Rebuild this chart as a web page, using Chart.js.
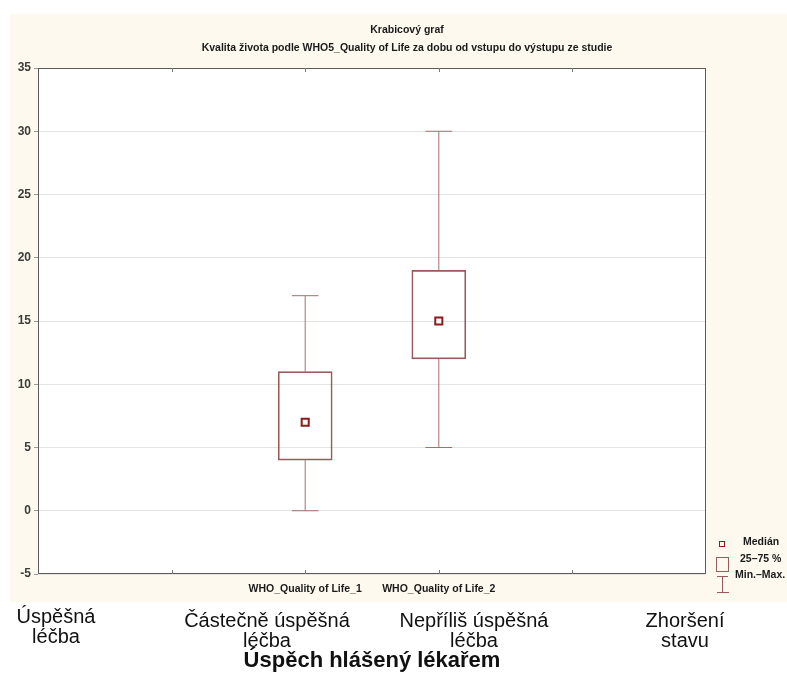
<!DOCTYPE html>
<html>
<head>
<meta charset="utf-8">
<script src="https://cdn.jsdelivr.net/npm/chart.js@4.4.1/dist/chart.umd.min.js"></script>
<style>
  html, body { margin: 0; padding: 0; background: #ffffff; }
  #wrap { width: 787px; height: 680px; position: relative; }
</style>
</head>
<body>
<div id="wrap"><canvas id="c" width="787" height="680"></canvas></div>
<script>
// Box plot summary per variable
const variables    = ['WHO_Quality of Life_1', 'WHO_Quality of Life_2'];
const positions    = [2, 3];
const minValues    = [0, 5];
const q1Values     = [4, 12];
const medianValues = [7, 15];
const q3Values     = [11, 19];
const maxValues    = [17, 30];

// Axis ranges and tick labels
const yMin = -5, yMax = 35, yStep = 5;
const xMin = 0, xMax = 5;
const xTickValues = [1, 2, 3, 4];

// Headings of the panel
const chartTitle = 'Krabicový graf';
const chartSubtitle = 'Kvalita života podle WHO5_Quality of Life za dobu od vstupu do výstupu ze studie';

// Legend entries
const legendLabels = ['Medián', '25–75 %', 'Min.–Max.'];

// Outcome groups written under the panel
const groupLabels = [
  ['Úspěšná', 'léčba'],
  ['Částečně úspěšná', 'léčba'],
  ['Nepříliš úspěšná', 'léčba'],
  ['Zhoršení', 'stavu']
];
const groupTitle = 'Úspěch hlášený lékařem';

const BOX_COLOR = '#9a5a5a';
const WHISKER_COLOR = '#a56e6e';
const MEDIAN_COLOR = '#8b1c1c';
const FONT = '"Liberation Sans", Arial, sans-serif';
const CAP_HALF = 0.1;

// Whisker stems (min→Q1 and Q3→max) and caps, as broken line segments
const stemPoints = [];
const capPoints = [];
positions.forEach((p, i) => {
  stemPoints.push({x: p, y: minValues[i]}, {x: p, y: q1Values[i]}, {x: p, y: null});
  stemPoints.push({x: p, y: q3Values[i]}, {x: p, y: maxValues[i]}, {x: p, y: null});
  capPoints.push({x: p - CAP_HALF, y: minValues[i]}, {x: p + CAP_HALF, y: minValues[i]}, {x: p, y: null});
  capPoints.push({x: p - CAP_HALF, y: maxValues[i]}, {x: p + CAP_HALF, y: maxValues[i]}, {x: p, y: null});
});

const panelPlugin = {
  id: 'panel',
  beforeDraw(chart) {
    const ctx = chart.ctx, a = chart.chartArea;
    ctx.save();
    ctx.fillStyle = '#ffffff';
    ctx.fillRect(0, 0, chart.width, chart.height);
    ctx.fillStyle = '#fdf9ee';
    ctx.fillRect(10, 14, chart.width - 10, 588);
    ctx.fillStyle = '#ffffff';
    ctx.fillRect(a.left, a.top, a.right - a.left, a.bottom - a.top);

    // headings
    ctx.fillStyle = '#1a1a1a';
    ctx.font = 'bold 10.5px ' + FONT;
    ctx.textAlign = 'center';
    ctx.textBaseline = 'middle';
    ctx.fillText(chartTitle, 407, 30);
    ctx.fillText(chartSubtitle, 407, 48);
    ctx.restore();
  },
  afterDraw(chart) {
    const ctx = chart.ctx, a = chart.chartArea;
    const xs = chart.scales.x;
    ctx.save();
    // frame
    ctx.strokeStyle = '#5c5c5c';
    ctx.lineWidth = 1;
    ctx.strokeRect(Math.round(a.left) + 0.5, Math.round(a.top) + 0.5,
                   Math.round(a.right - a.left) - 1, Math.round(a.bottom - a.top) - 1);
    // inner tick marks on top and bottom edges
    ctx.strokeStyle = '#777777';
    xTickValues.forEach(v => {
      const px = Math.round(xs.getPixelForValue(v)) + 0.5;
      ctx.beginPath();
      ctx.moveTo(px, a.top); ctx.lineTo(px, a.top + 4);
      ctx.moveTo(px, a.bottom); ctx.lineTo(px, a.bottom - 4);
      ctx.stroke();
    });

    // legend key
    ctx.strokeStyle = MEDIAN_COLOR;
    ctx.lineWidth = 1;
    ctx.strokeRect(719.5, 541.5, 5, 5);
    ctx.strokeStyle = BOX_COLOR;
    ctx.strokeRect(716.5, 557.5, 12, 14);
    ctx.beginPath();
    ctx.moveTo(722.5, 576); ctx.lineTo(722.5, 593);
    ctx.moveTo(717, 576.5); ctx.lineTo(728, 576.5);
    ctx.moveTo(717, 592.5); ctx.lineTo(729, 592.5);
    ctx.stroke();
    ctx.fillStyle = '#1a1a1a';
    ctx.font = 'bold 10.5px ' + FONT;
    ctx.textBaseline = 'middle';
    ctx.textAlign = 'left';
    ctx.fillText(legendLabels[0], 743, 542);
    ctx.fillText(legendLabels[1], 740, 559);
    ctx.fillText(legendLabels[2], 735, 575);

    // outcome group labels below the panel
    const centers = [56, 267, 474, 685];
    const firstBase = [623, 627, 627, 627];
    ctx.fillStyle = '#111111';
    ctx.font = '20px ' + FONT;
    ctx.textAlign = 'center';
    ctx.textBaseline = 'alphabetic';
    groupLabels.forEach((lines, i) => {
      lines.forEach((t, j) => ctx.fillText(t, centers[i], firstBase[i] + j * 20));
    });
    ctx.font = 'bold 22px ' + FONT;
    ctx.fillText(groupTitle, 372, 667);
    ctx.restore();
  }
};

new Chart(document.getElementById('c'), {
  type: 'bar',
  data: {
    datasets: [
      {
        type: 'scatter',
        label: legendLabels[0],
        data: positions.map((p, i) => ({x: p, y: medianValues[i]})),
        pointStyle: 'rect',
        pointRadius: 5,
        pointBorderWidth: 2,
        pointBorderColor: MEDIAN_COLOR,
        pointBackgroundColor: '#ffffff',
        order: 0
      },
      {
        type: 'line',
        label: legendLabels[2],
        data: stemPoints,
        borderColor: WHISKER_COLOR,
        borderWidth: 1,
        pointRadius: 0,
        spanGaps: false,
        order: 1
      },
      {
        type: 'line',
        label: 'caps',
        data: capPoints,
        borderColor: WHISKER_COLOR,
        borderWidth: 1,
        pointRadius: 0,
        spanGaps: false,
        order: 1
      },
      {
        type: 'bar',
        label: legendLabels[1],
        data: positions.map((p, i) => ({x: p, y: [q1Values[i], q3Values[i]]})),
        backgroundColor: 'rgba(255,255,255,0)',
        borderColor: BOX_COLOR,
        borderWidth: 1,
        borderSkipped: false,
        barThickness: 54,
        order: 2
      }
    ]
  },
  options: {
    responsive: false,
    animation: false,
    layout: { padding: { left: 10, right: 81, top: 68, bottom: 80 } },
    plugins: {
      legend: { display: false },
      tooltip: { enabled: false },
      title: { display: false }
    },
    scales: {
      x: {
        type: 'linear',
        min: xMin,
        max: xMax,
        offset: false,
        grid: { display: false, drawTicks: false },
        border: { display: false },
        ticks: {
          stepSize: 1,
          autoSkip: false,
          maxRotation: 0,
          padding: 9,
          color: '#1a1a1a',
          font: { family: FONT, size: 10.5, weight: 'bold' },
          callback: v => {
            const i = positions.indexOf(v);
            return i >= 0 ? variables[i] : '';
          }
        },
        afterFit: s => { s.height = 26; }
      },
      y: {
        min: yMin,
        max: yMax,
        grid: { color: '#e4e4e4', tickColor: '#9a9a9a', tickLength: 4 },
        border: { display: false },
        ticks: {
          stepSize: yStep,
          padding: 3,
          color: '#3c3c3c',
          font: { family: FONT, size: 12, weight: 'bold' }
        },
        afterFit: s => { s.width = 28; }
      }
    }
  },
  plugins: [panelPlugin]
});
</script>
</body>
</html>
